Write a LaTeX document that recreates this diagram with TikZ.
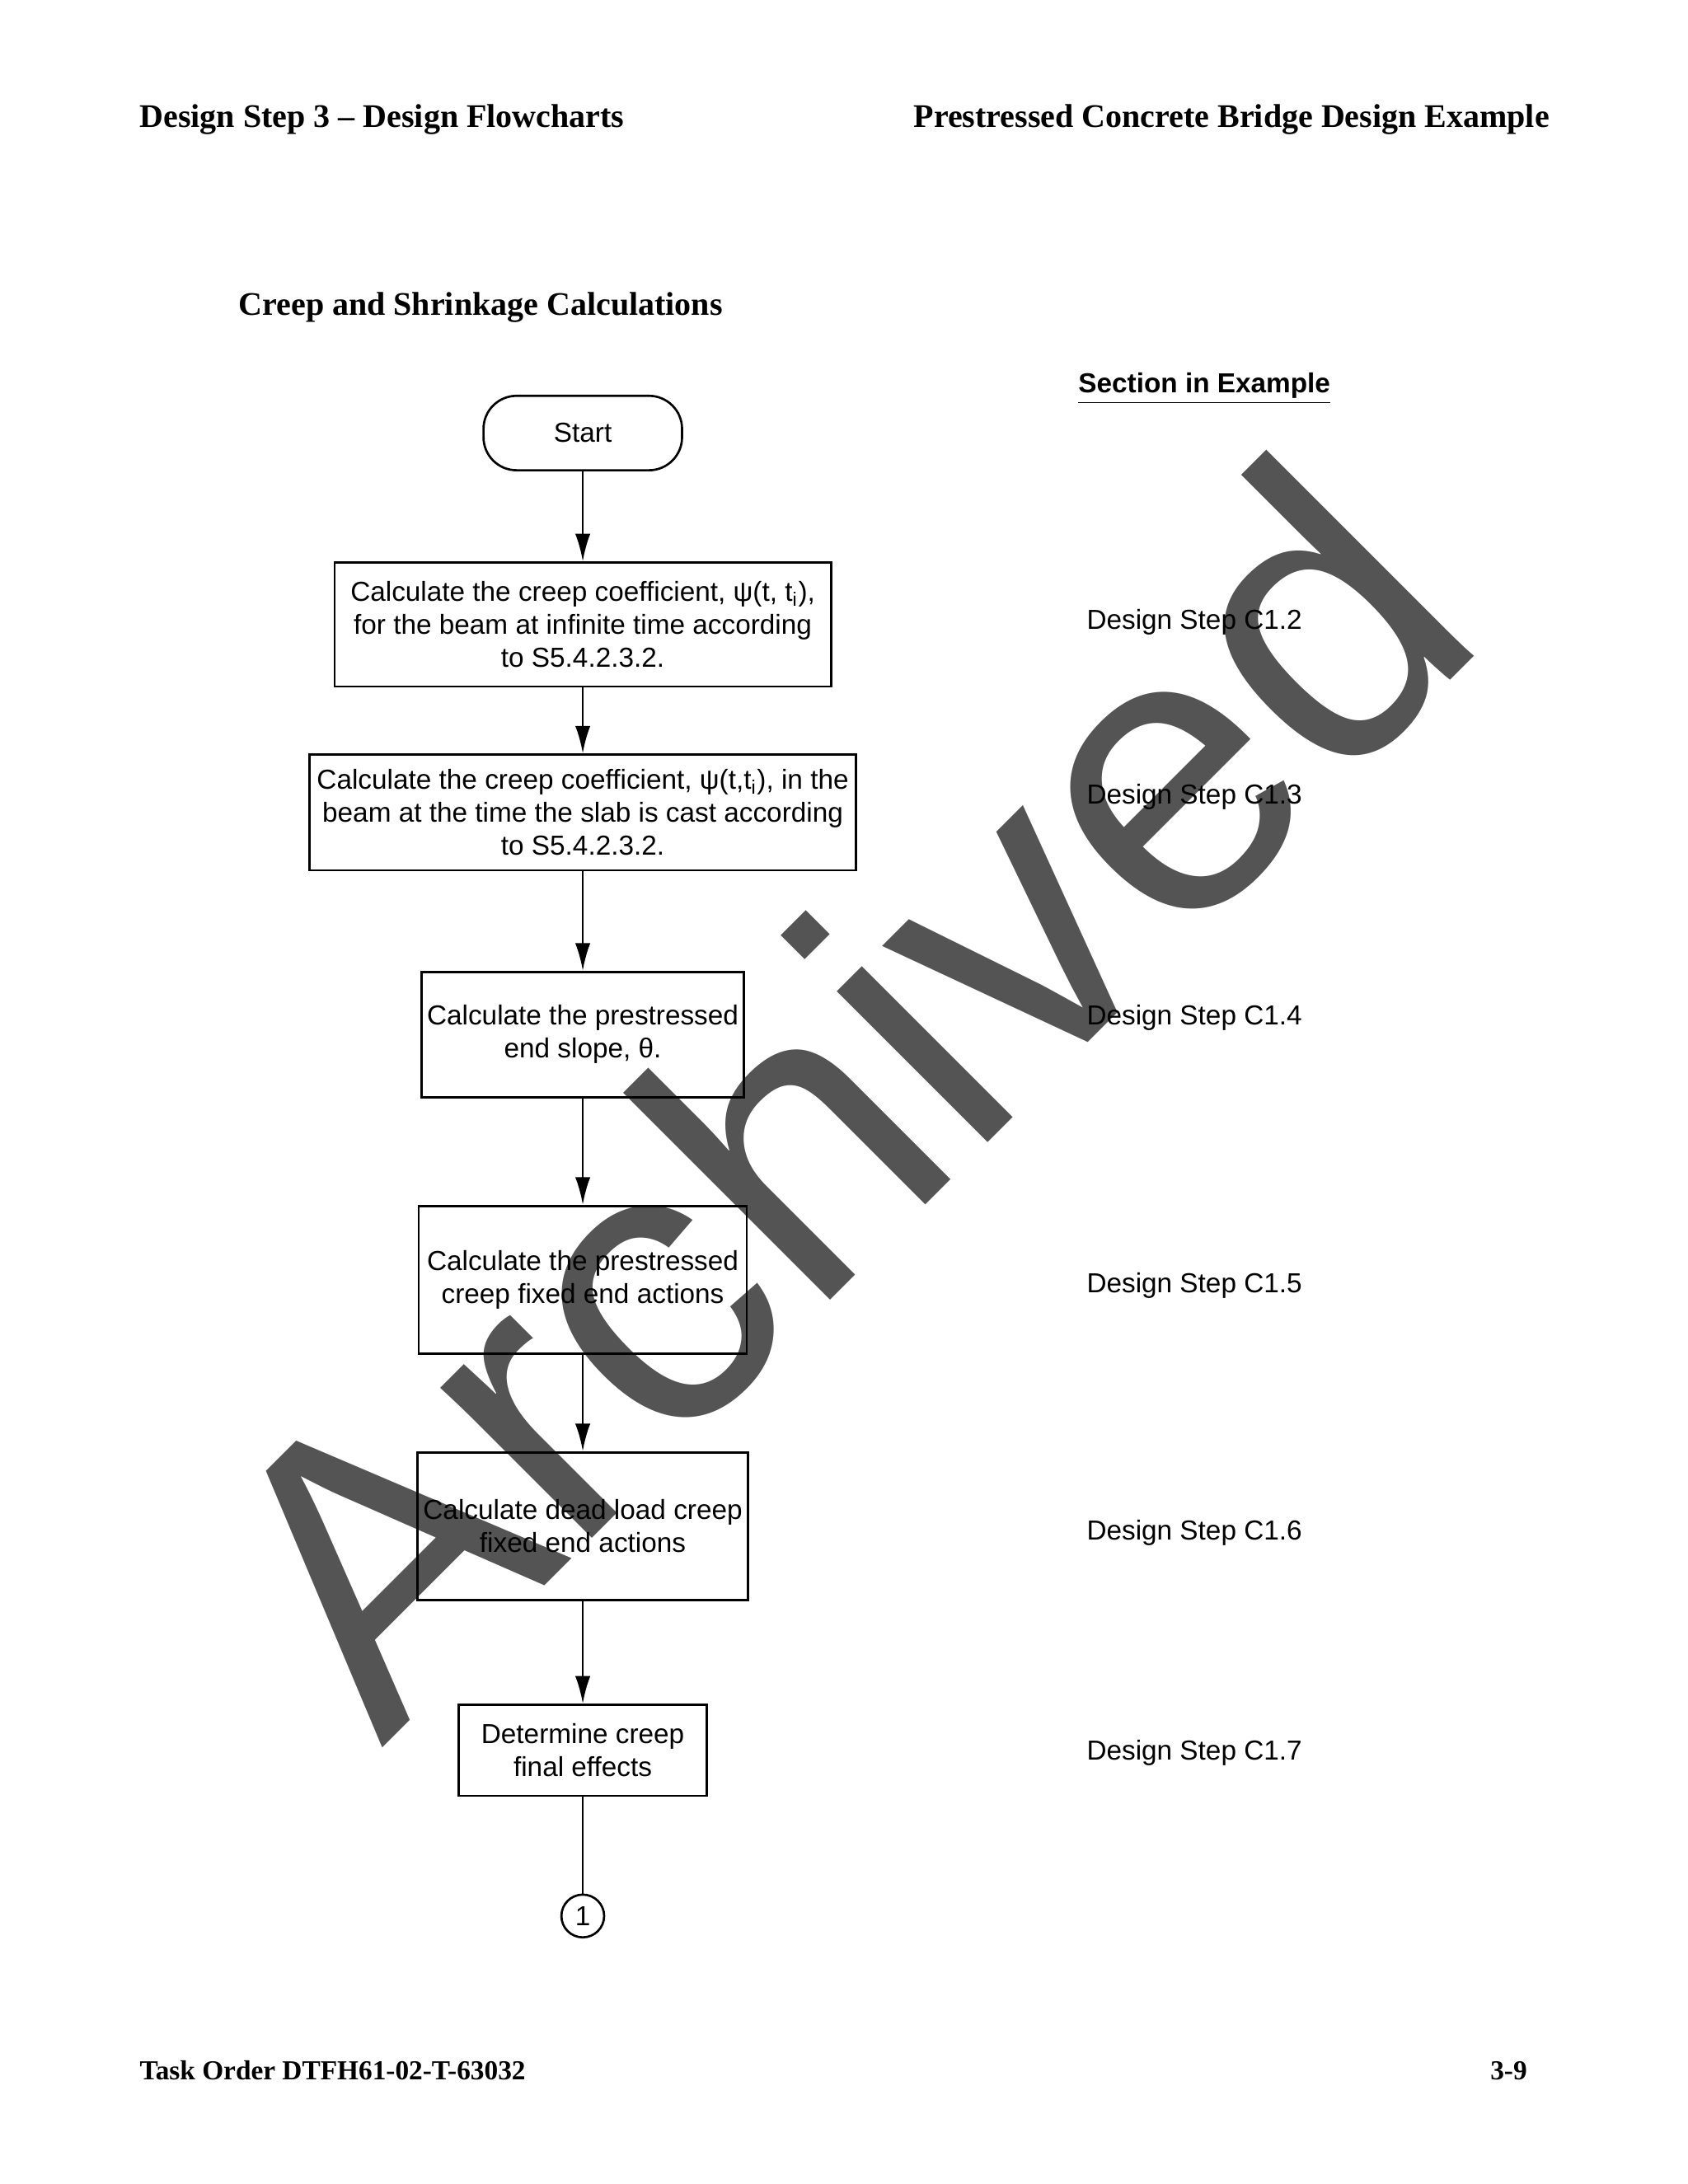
\documentclass[tikz,border=0pt]{standalone}
\usepackage{fontspec}
\setmainfont{Liberation Sans}
\newfontfamily\timesfont{Liberation Serif}
\usepackage{tikz}
\usetikzlibrary{arrows.meta}

\tikzset{
  flow/.style={draw, line width=0.8pt, align=center, inner sep=2pt,
    font=\fontsize{10}{12}\selectfont},
  terminal/.style={flow, rounded corners=12bp, minimum width=72bp, minimum height=27bp},
  connector/.style={draw, line width=0.8pt, circle, inner sep=0pt, minimum size=15.5bp,
    font=\fontsize{10}{12}\selectfont},
  steplabel/.style={anchor=west, inner sep=0pt, font=\fontsize{10}{12}\selectfont},
  headline/.style={inner sep=0pt, font=\timesfont\bfseries\fontsize{12}{14}\selectfont},
  footline/.style={inner sep=0pt, font=\timesfont\bfseries\fontsize{10}{12}\selectfont},
  watermark/.style={anchor=base west, rotate=45, inner sep=0pt, text=black,
    text opacity=0.67, font=\fontsize{147}{147}\selectfont},
  arrow/.style={line width=0.8pt, -{Latex[length=10bp, width=5.5bp]}}
}

\begin{document}
\begin{tikzpicture}[x=0.50495bp, y=-0.50495bp]
  \fill[white] (0,0) rectangle (1212,1568.5);
  \useasboundingbox (0,0) rectangle (1212,1568.5);

  % page header and footer
  \node[headline, anchor=west] (head1) at (100,86) {Design Step 3 – Design Flowcharts};
  \node[headline, anchor=east] (head2) at (1113,86) {Prestressed Concrete Bridge Design Example};
  \node[headline, anchor=west] (title) at (171,221) {Creep and Shrinkage Calculations};
  \node[footline, anchor=west] (foot1) at (100,1487) {Task Order DTFH61-02-T-63032};
  \node[footline, anchor=east] (foot2) at (1097,1487) {3-9};

  % flowchart
  \node[terminal] (start) at (418.5,311) {Start};
  \node[flow, minimum width=180bp, minimum height=45bp] (c12) at (418.5,448.5)
    {Calculate the creep coefficient, ψ(t, t\textsubscript{i}),\\
     for the beam at infinite time according\\ to S5.4.2.3.2.};
  \node[flow, minimum width=198bp, minimum height=42bp] (c13) at (418.5,583.5)
    {Calculate the creep coefficient, ψ(t,t\textsubscript{i}), in the\\
     beam at the time the slab is cast according\\ to S5.4.2.3.2.};
  \node[flow, minimum width=117bp, minimum height=45.5bp] (c14) at (418.5,743)
    {Calculate the prestressed\\ end slope, θ.};
  \node[flow, minimum width=119bp, minimum height=53.5bp] (c15) at (418.5,919)
    {Calculate the prestressed\\ creep fixed end actions};
  \node[flow, minimum width=119bp, minimum height=53.5bp] (c16) at (418.5,1096)
    {Calculate dead load creep\\ fixed end actions};
  \node[flow, minimum width=90bp, minimum height=33bp] (c17) at (418.5,1257)
    {Determine creep\\ final effects};
  \node[connector] (con1) at (418.5,1376) {1};

  \draw[arrow] (start) -- (c12);
  \draw[arrow] (c12) -- (c13);
  \draw[arrow] (c13) -- (c14);
  \draw[arrow] (c14) -- (c15);
  \draw[arrow] (c15) -- (c16);
  \draw[arrow] (c16) -- (c17);
  \draw[line width=0.8pt] (c17) -- (con1);

  % section references
  \node[steplabel, font=\bfseries\fontsize{10}{12}\selectfont] (sec) at (774,279) {\underline{Section in Example}};
  \node[steplabel] (s12) at (780,447) {Design Step C1.2};
  \node[steplabel] (s13) at (780,572) {Design Step C1.3};
  \node[steplabel] (s14) at (780,731) {Design Step C1.4};
  \node[steplabel] (s15) at (780,923) {Design Step C1.5};
  \node[steplabel] (s16) at (780,1101) {Design Step C1.6};
  \node[steplabel] (s17) at (780,1259) {Design Step C1.7};

  % archive stamp
  \node[watermark] (stamp) at (274,1256) {Archived};
\end{tikzpicture}
\end{document}
